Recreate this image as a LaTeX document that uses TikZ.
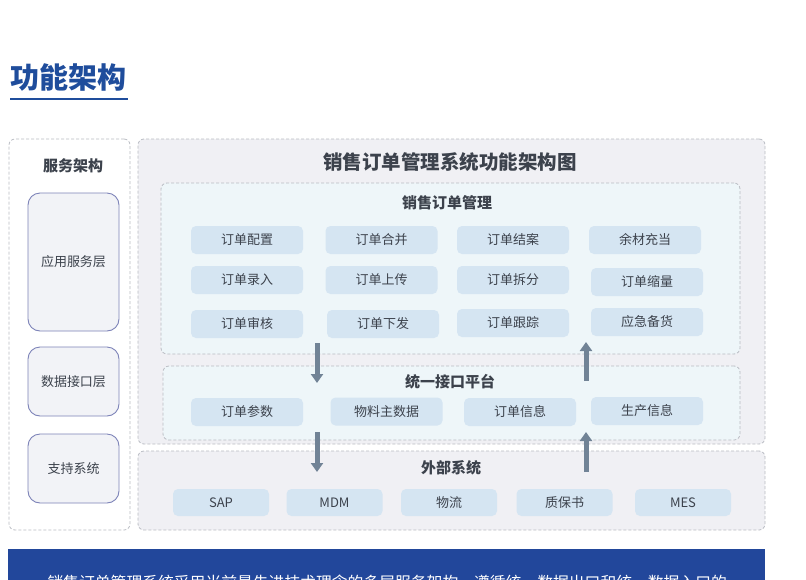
\documentclass[tikz,border=0pt]{standalone}
\usepackage{fontspec}
\setmainfont{Noto Sans CJK SC}
\usetikzlibrary{arrows.meta}
\definecolor{ttlblue}{HTML}{1F4D9C}
\definecolor{barblue}{HTML}{22479B}
\definecolor{dashgray}{HTML}{B9BCC3}
\definecolor{panelgray}{HTML}{F0F0F4}
\definecolor{panelcyan}{HTML}{EEF6F9}
\definecolor{itemfill}{HTML}{D5E5F2}
\definecolor{txt}{HTML}{3C424C}
\definecolor{layerline}{HTML}{7D83B8}
\definecolor{layerfill}{HTML}{F2F3F7}
\definecolor{arrowcol}{HTML}{718396}
\tikzset{
  panel/.style={draw=dashgray, dash pattern=on 3pt off 2pt, line width=0.8pt, rounded corners=6pt, inner sep=0pt},
  itembox/.style={fill=itemfill, rounded corners=5pt, minimum width=112pt, minimum height=28pt, inner sep=0pt, text=txt, font=\fontsize{13}{15}\selectfont},
  extbox/.style={itembox, minimum width=96pt, minimum height=27pt},
  layerbox/.style={draw=layerline, line width=0.9pt, fill=layerfill, rounded corners=12pt, minimum width=91pt, inner sep=0pt, text=txt, font=\fontsize{13}{15}\selectfont},
  headtxt/.style={text=txt, font=\fontsize{15}{17}\selectfont\bfseries},
  flow/.style={draw=arrowcol, line width=5pt, -{Triangle[width=12pt,length=9pt]}, shorten >=-1pt}
}
\begin{document}
\begin{tikzpicture}[x=1pt,y=-1pt]
\clip (0,0) rectangle (806,579);
\fill[white] (0,0) rectangle (806,579);
% page title
\node[text=ttlblue, font=\fontsize{29}{32}\selectfont\bfseries, anchor=center] (pagetitle) at (68,77) {功能架构};
\draw[ttlblue, line width=1.8pt] (10,99) -- (128,99);
% left column
\node[panel, fill=white, minimum width=121pt, minimum height=391pt] (left) at (69.5,334.5) {};
\node[headtxt] (lefthead) at (73,166) {服务架构};
\node[layerbox, minimum height=138pt] (l1) at (73.5,262) {应用服务层};
\node[layerbox, minimum height=69pt] (l2) at (73.5,381.5) {数据接口层};
\node[layerbox, minimum height=69pt] (l3) at (73.5,468.5) {支持系统};
% main panel
\node[panel, fill=panelgray, minimum width=627pt, minimum height=305pt] (main) at (451.5,291.5) {};
\node[text=txt, font=\fontsize{19.5}{22}\selectfont\bfseries] (maintitle) at (450,162) {销售订单管理系统功能架构图};
% order management
\node[panel, fill=panelcyan, minimum width=579pt, minimum height=171pt] (mgmt) at (450.5,268.5) {};
\node[headtxt] (mgmthead) at (447,203) {销售订单管理};
\node[itembox] (m11) at (247,240) {订单配置};
\node[itembox] (m12) at (381.5,240) {订单合并};
\node[itembox] (m13) at (513,240) {订单结案};
\node[itembox] (m14) at (645,240) {余材充当};
\node[itembox] (m21) at (247,280) {订单录入};
\node[itembox] (m22) at (381.5,280) {订单上传};
\node[itembox] (m23) at (513,280) {订单拆分};
\node[itembox] (m24) at (647,282) {订单缩量};
\node[itembox] (m31) at (247,324) {订单审核};
\node[itembox] (m32) at (383,324) {订单下发};
\node[itembox] (m33) at (513,323) {订单跟踪};
\node[itembox] (m34) at (647,322) {应急备货};
% interface platform
\node[panel, fill=panelcyan, minimum width=577pt, minimum height=74pt] (intf) at (451.5,403) {};
\node[headtxt] (intfhead) at (450,382) {统一接口平台};
\node[itembox] (i1) at (247,412) {订单参数};
\node[itembox] (i2) at (386.5,411.5) {物料主数据};
\node[itembox] (i3) at (520,412) {订单信息};
\node[itembox] (i4) at (647,411) {生产信息};
% external systems
\node[panel, fill=panelgray, minimum width=627pt, minimum height=79pt] (ext) at (451.5,490.5) {};
\node[headtxt] (exthead) at (451,468) {外部系统};
\node[extbox] (e1) at (221,502.5) {SAP};
\node[extbox] (e2) at (334.5,502.5) {MDM};
\node[extbox] (e3) at (449,502.5) {物流};
\node[extbox] (e4) at (564.5,502.5) {质保书};
\node[extbox] (e5) at (683,502.5) {MES};
% arrows
\coordinate (d1s) at (317,343);
\coordinate (d1e) at (317,382);
\coordinate (d2s) at (317,432);
\coordinate (d2e) at (317,471);
\coordinate (u1s) at (586,381);
\coordinate (u1e) at (586,343);
\coordinate (u2s) at (586,472);
\coordinate (u2e) at (586,433);
\draw[flow] (d1s) -- (d1e);
\draw[flow] (d2s) -- (d2e);
\draw[flow] (u1s) -- (u1e);
\draw[flow] (u2s) -- (u2e);
% bottom bar
\fill[barblue] (8,549) rectangle (765,600);
\node[text=white, font=\fontsize{15.8}{18}\selectfont, anchor=west] (bartext) at (44,583) {销售订单管理系统采用当前最先进技术理念的多层服务架构，遵循统一数据出口和统一数据入口的};
\end{tikzpicture}
\end{document}
